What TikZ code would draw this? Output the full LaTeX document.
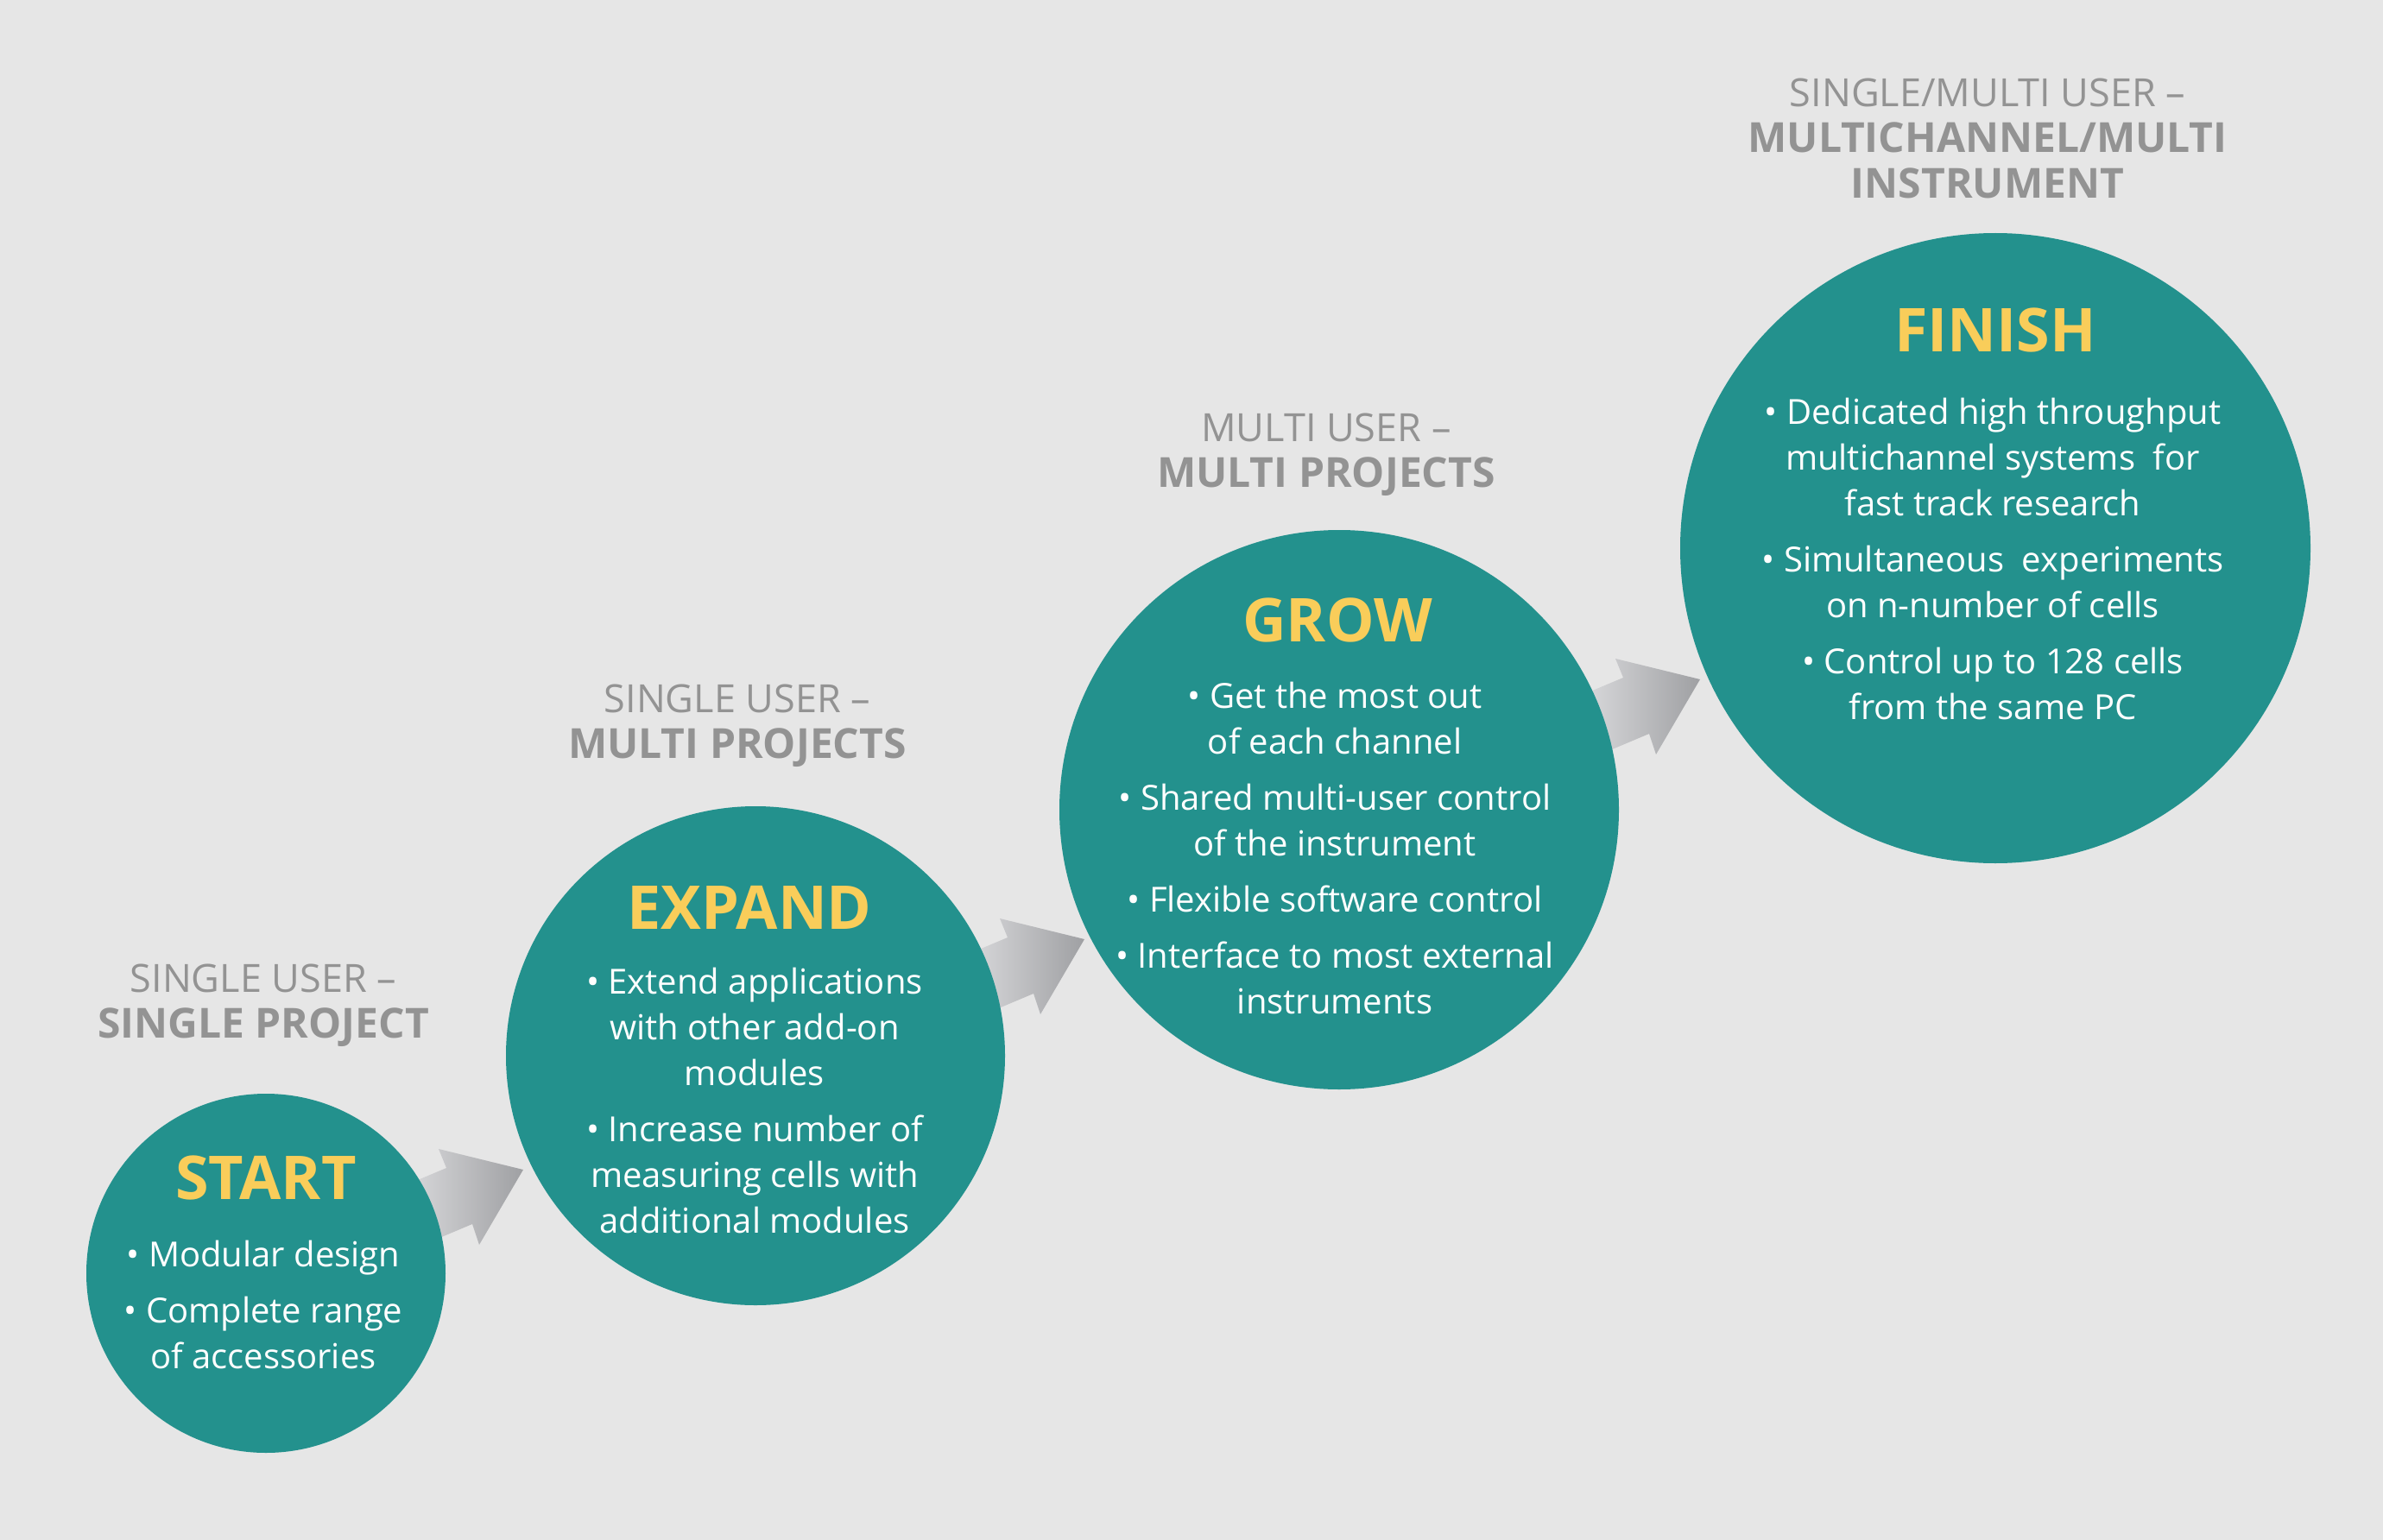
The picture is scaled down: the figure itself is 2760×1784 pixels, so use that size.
\documentclass[tikz,border=0pt]{standalone}
\usepackage{fontspec}
\setmainfont{Open Sans}
\definecolor{bgc}{HTML}{E6E6E6}
\definecolor{tealc}{HTML}{23918D}
\definecolor{titlec}{HTML}{F9CD5A}
\definecolor{headc}{HTML}{939393}
\definecolor{arrowL}{HTML}{E9E9EB}
\definecolor{arrowR}{HTML}{9FA0A3}
\tikzset{
  stage/.style={circle, fill=tealc, inner sep=0pt, draw=none},
  title/.style={text=titlec, font={\fontsize{70}{80}\selectfont\bfseries}, inner sep=0pt},
  body/.style={text=white, align=center, inner sep=0pt, font={\fontsize{40}{53}\selectfont}},
  head/.style={text=headc, align=center, inner sep=0pt, font={\fontsize{45}{53}\selectfont}},
  flow/.pic={\shade[left color=arrowL, right color=arrowR]
     (-74,57) -- (9,22) -- (0,0) -- (98,24) -- (47,111) -- (39,87) -- (-44,122) -- cycle;}
}
\newcommand{\hb}[1]{{\fontsize{48}{53}\selectfont\bfseries #1}}
\begin{document}
\begin{tikzpicture}[x=1pt,y=-1pt]
\useasboundingbox (0,0) rectangle (2760,1784);
\fill[bgc] (0,0) rectangle (2760,1784);
% arrows (behind circles)
\coordinate (a1) at (508,1331);
\coordinate (a2) at (1158,1064);
\coordinate (a3) at (1871,763);
\pic at (a1) {flow};
\pic at (a2) {flow};
\pic at (a3) {flow};
% circles
\node[stage, minimum size=416pt] (start) at (308,1475) {};
\node[stage, minimum size=578pt] (expand) at (875,1223) {};
\node[stage, minimum size=648pt] (grow) at (1551,938) {};
\node[stage, minimum size=730pt] (finish) at (2311,635) {};
% titles
\node[title] (tstart) at (308,1364) {START};
\node[title] (texpand) at (868,1051) {EXPAND};
\node[title] (tgrow) at (1549,718) {GROW};
\node[title] (tfinish) at (2311,382) {FINISH};
% bodies
\node[body] (bstart) at (305,1511) {•~Modular design\\[12pt] •~Complete range\\of accessories};
\node[body] (bexpand) at (874,1275) {•~Extend applications\\with other add-on\\modules\\[12pt] •~Increase number of\\measuring cells with\\additional modules};
\node[body] (bgrow) at (1546,982) {•~Get the most out\\of each channel\\[12pt] •~Shared multi-user control\\of the instrument\\[12pt] •~Flexible software control\\[12pt] •~Interface to most external\\instruments};
\node[body] (bfinish) at (2308,647) {•~Dedicated high throughput\\multichannel systems~ for\\fast track research\\[12pt] •~Simultaneous~ experiments\\on n-number of cells\\[12pt] •~Control up to 128 cells\\from the same PC};
% headers
\node[head] (hstart) at (305,1165) {SINGLE USER –\\\hb{SINGLE PROJECT}};
\node[head] (hexpand) at (854,841) {SINGLE USER –\\\hb{MULTI PROJECTS}};
\node[head] (hgrow) at (1536,527) {MULTI USER –\\\hb{MULTI PROJECTS}};
\node[head] (hfinish) at (2302,160) {SINGLE/MULTI USER –\\\hb{MULTICHANNEL/MULTI}\\\hb{INSTRUMENT}};
\end{tikzpicture}
\end{document}
